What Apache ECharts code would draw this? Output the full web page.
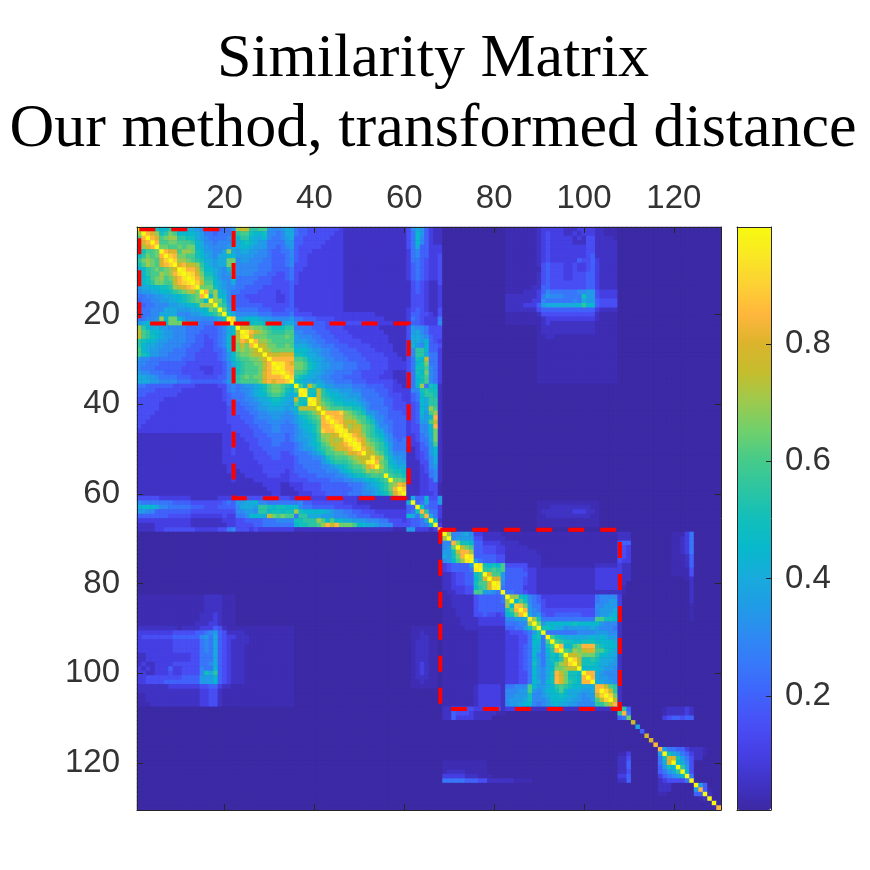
<!DOCTYPE html>
<html>
<head>
<meta charset="utf-8">
<title>Similarity Matrix</title>
<script src="https://cdn.jsdelivr.net/npm/echarts@6/dist/echarts.min.js"></script>
<style>
html, body { margin: 0; padding: 0; background: #fff; }
#main { width: 870px; height: 870px; }
</style>
</head>
<body>
<div id="main"></div>
<script type="text/javascript">
var size = 130;
var tickStep = 20;
var colorTicks = [0.2, 0.4, 0.6, 0.8];
var colorMin = 0.006;
var colorMax = 0.999;
var boxes = [[1, 22], [22, 61], [68, 108]];

// one char per cell: '.' is background, then steps of 0.05
var levelChars = '.0123456789abcdefghijk';
var levelValues = [0.006, 0.025, 0.05, 0.1, 0.15, 0.2, 0.25, 0.3, 0.35, 0.4, 0.45, 0.5, 0.55, 0.6, 0.65, 0.7, 0.75, 0.8, 0.85, 0.9, 0.95, 1];

var colormap = ['#3c29a4', '#4034c8', '#4640e6', '#4850f6', '#3f64fb', '#3778fa', '#2e8af2', '#209ce6', '#18abdc', '#08b9cc', '#12bfba',
	'#2cc5a2', '#46cb8a', '#6fd06c', '#9cca4e', '#c4bd2e', '#dcb42c', '#ffb63c', '#fdd034', '#f9e724', '#f8fa10'];

// the matrix is symmetric, only the lower triangle is stored
// rows 1..68, from column 1
var rowsTop = [
'k',
'ek',
'chk',
'cghk',
'aeghk',
'9accdk',
'9bdcdhk',
'bdedcgik',
'acedcghik',
'89bcdcdegk',
'89bccedehjk',
'89acdecdfhjk',
'89abddccfhijk',
'78899aabefghik',
'6778899abcdefdk',
'5566778899abcdhk',
'4556677889abcdc9k',
'4455666778899aeeek',
'45566688877788 99dck',
'55566888866677 89abdk',
'5566 7e9dd9 7666666 78a k',
'78998 89ddd ca86 5555 68ik',
'eb98877666 6555544456 89 k',
'fcb9987766 6555444456 89 fk',
'fcba987766 6554434456 99 fjk',
'ba99877666 6554433456 99 ehgk',
'b988776666 5544433456 9a dfdhk',
'c987766655 5444333445 8a dedefk',
'ca97766555 5443333345 79 cddeffk',
'7665555555 4443333345 79 bccddegk',
'6655544444 4333333334 68 abccddfhk',
'6555444444 3333222334 67 abcccdfhjk',
'7665554444 3333322334 67 abcccdghjjk',
'8877655554 4433333344 68 bcdcddghhhik',
'8887766665 5544444445 78 bccccdghghhik',
'5544444433 3332222233 56 5677 89acddcbak',
'4444333333 2222222223 56 56678 9acddca9ck',
'4433333332 2222222223 45 5567899bccb989jk',
'3333332222 2222222223 45 55667889aa988faak',
'3333322222 2222222222 44 4556678899887ca9jk',
'3333322222 2222222222 34 44556778888789ffffk',
'3333222222 2222222222 34 44455667777678bbcdfk',
'3332222222 2222222222 33 3444566677666 79abcdhk',
'3322222222 2222222222 33 3344555666656 789abchik',
'3222222222 2222222222 23 3334455566555 689 9achhik',
'2222222222 2222222222 23 3333445566555 6789acihhjk',
'1111111111 1111111112 23 2333444555545 6788 9beefgjk',
'1111111111 1111111112 23 2233344455545 67789bdefefjk',
'1111111111 1111111112 23 2223344455444 5 6789acdffghjk',
'1111111111 1111111112 23 2223334444444 5 677 8abcdfgghjk',
'1111111111 1111111112 23 2222333444334 5 5 5678accddeggh k',
'1111111111 1111111112 22 2222333344333 4 5 55667abcccdefffk',
'1111111111 1111111112 22 2222233333333 4 5 5 5 5578abbbcdefjk',
'1111111111 1111111111 22 2222223333333 4 4 5 5 5566 789abccdghk',
'1111111111 1111111111 22 1222223333323 4 4 4 5 55566 689abbcededk',
'1111111111 1111111111 12 1122222333223 3 4 4 4 4555 5667 89aabcc ck',
'1111111111 1111111111 12 1111222222223 3 3 3 4 444 4555 6677899abck',
'1111111111 1111111111 11 1111112222112 2 2 3 3 3344 444 4555678 9abdek',
'1111111111 1111111111 11 1111111222111 2 2 3 3 3344 4444 455677 8abdhk',
'1111111111 1111111111 11 1111111122111 1 2 2 2 3334444 4555667 89acgik',
'3333322222 2211111122 22 3333333333 3322222222 2222222111 1111111111 e',
'6555555544 4433333334 5477889665 5555556443 3333332221 1111111111 8k',
'8999866555 5544433344 4468887bba 9aa9996554 4444333322 2211111111 44k',
'7766444444 4433333333 3366776bb9 aa9aaea999 9987665544 3332222222 45ah',
'4444444333 3322222223 2255699 98f dcdcc5bb88 8777666554 4433322222 985bh',
'2222222222 2211111112 2233444455 5666 6aabbb ec9c998877 7666553332 3 4 4 5 8 k',
'1111222222 2211111111 2233334455 555559aabb cehfhdddc9 9887666333 3 4 4 5 5 9 k',
'1111223333 3332222233 5633323222 2222211111 1111111111 1111111000 7 7 2 2 2 1 2 h'
];

// rows 69..130, from column 69
var rowsMid = [
'k',
'ek',
'66h',
'67dk',
'77afh',
'87adhk',
'679cejk',
'2344447k',
'2344445jk',
'1123344abk',
'1123344 9bgk',
'1123344 accgk',
'1122233 9bcgjk',
'0112233 cc7765k',
'0011111 3444445 k',
'0011111 3444445 ek',
'0011111 3444444 e9i',
'0001111 3444444 achk',
'0001111 3343323 9adhk',
'0000111 1222222 66778j',
'0000111 1222222 55566ek',
'0000011 1111111 44557adk',
'0000000 0111111 2333457ak',
'0000000 0111111 22233 59a5k',
'0000000 0111111 22233 599 5ck',
'0000000 0111111 22234 598 5ack',
'0000000 0111111 22234 598 59bhk',
'0000000 0111111 22234 59658 a9ck',
'0000000 0111111 22234 59758 a9bfk',
'0000000 0111111 22234 5a758 9cefik',
'0000000 0111111 22234 59768 9ddeffk',
'0000000 0111111 22233 59768 a hfdaa9 k',
'0000000 0111111 22233 59768 a hgdaa9 hk',
'0000000 0111111 22233 59869 a hgdba9 hhk',
'0000000 1222221 55666 c9778 9 bcba99 888h',
'0000000 1222221 66677 c7679 9 ac9888 778hk',
'0000000 1222221 66777 a6678 9 9a9887 677fik',
'0000000 1222221 67778 a6667 9 998877 667cfik',
'0000000 1222221 67789 96567 8 988776 666bbdfh',
'1133333 2222231 22221 11111 1 111111 111 1111 1g',
'1143332111 1100...... .......... .........b h',
'1142222111 1......... .......... .........4 5d',
'.......... .......... .......... .......... ..f',
'.......... .......... .......... .......... ...8',
'.......... .......... .......... .......... ....4',
'.......... .......... .......... .......... .....g',
'.......... .......... .......... .......... ......g',
'.......... .......... .......... .......... .......h',
'.......... .......... .......... .......... ........h',
'.......... .......... .......... .........0 02......7k',
'.......... .......... .......... .........1 13......5a g',
'0000000000 .......... .......... .........1 14......58 gk',
'0000000000 .......... .......... .........1 14......47 a9k',
'0111100000 .......... .......... .........1 13......45 78bk',
'2222211100 0......... .......... .........2 24......24 5679k',
'5555544433 1111110000 .......... .........1 14......12 33335k',
'.......... .......... .......... .......... ........11 1.....k',
'.......... .......... .......... .......... ........11 1.....7h',
'.......... .......... .......... .......... ........00 ......44k',
'.......... .......... .......... .......... .......... .......01k',
'.......... .......... .......... .......... .......... .......... k',
'.......... .......... .......... .......... .......... .......... .h'
];

// rows 83..107, from column 1
var rowsFar = [
'0000000000 0000011110 00',
'0000000000 0000011110 00',
'0000000000 0000011110 00',
'0000000000 0000011110 00',
'0000000000 0000111210 00',
'0000000000 0000111210 00',
'0000000000 0001112210 00',
'1111111110 1111222431 00 0000000000000',
'2222222233 3334456743 11 1100000000000',
'2333333344 4444675843 22 1110000000000',
'2222222233 3333565843 21 1110000000000',
'2222222233 3333565843 21 1100000000000',
'2222222233 3333565843 21 1100000000000',
'1122222222 2233555843 21 1100000000000',
'1122222222 2233555843 21 1100000000000',
'1211222233 3333556843 21 1100000000000',
'2121222422 3333655943 21 1100000000000',
'2211222322 33336a8b43 21 1100000000000',
'2233333333 4444777943 21 1100000000000',
'2233334444 4444777943 21 1100000000000',
'1111111222 2222334421 10 0000000000000',
'1111111111 1111223310 00 0000000000000',
'0011111111 1111223310 00 0000000000000',
'0011111111 1111223310 00 0000000000000',
'0001111111 1111223310 00 0000000000000'
];

// rows 90..103, from column 62
var rowsStrip = [
'000000', '001000', '001100', '011100', '011100', '011100', '011100',
'011100', '012100', '012100', '012100', '011100', '001000', '000000'
];

var matrix = [];
for (var i = 0; i < size; i++) {
	matrix.push([]);
	for (var j = 0; j < size; j++) {
		matrix[i].push(levelValues[0]);
	}
}

function fillRows(rows, firstRow, firstCol) {
	for (var r = 0; r < rows.length; r++) {
		var text = rows[r].replace(/\s/g, '');
		for (var k = 0; k < text.length; k++) {
			var y = firstRow - 1 + r;
			var x = firstCol - 1 + k;
			var v = levelValues[levelChars.indexOf(text.charAt(k))];
			if (x < size && y < size) {
				matrix[y][x] = v;
				matrix[x][y] = v;
			}
		}
	}
}
fillRows(rowsTop, 1, 1);
fillRows(rowsMid, 69, 69);
fillRows(rowsFar, 83, 1);
fillRows(rowsStrip, 90, 62);

var labels = [];
var cells = [];
for (var a = 0; a < size; a++) {
	labels.push(String(a + 1));
	for (var b = 0; b < size; b++) {
		cells.push([b, a, matrix[a][b]]);
	}
}

var boxData = [];
for (var n = 0; n < boxes.length; n++) {
	boxData.push([boxes[n][0] - 1, boxes[n][1] - 1]);
}

var axisColor = '#262626';
var labelFont = { fontFamily: 'Liberation Sans', fontSize: 33, color: '#333333' };

function isTick(index) {
	return (index + 1) % tickStep === 0;
}

function matrixAxis(position, withLabels, inverse, margin) {
	return {
		type: 'category',
		gridIndex: 0,
		position: position,
		data: labels,
		inverse: inverse,
		boundaryGap: true,
		z: 6,
		axisLine: { show: true, onZero: false, lineStyle: { color: axisColor, width: 1 } },
		axisTick: { show: true, inside: true, length: 6, alignWithLabel: true, interval: isTick, lineStyle: { color: axisColor, width: 1 } },
		axisLabel: {
			show: withLabels, interval: isTick, margin: margin, hideOverlap: false,
			fontFamily: labelFont.fontFamily, fontSize: labelFont.fontSize, color: labelFont.color
		},
		splitLine: { show: false }
	};
}

function barEdge(position) {
	return {
		type: 'value',
		gridIndex: 1,
		position: position,
		min: 0,
		max: 1,
		z: 6,
		axisLine: { show: true, onZero: false, lineStyle: { color: axisColor, width: 1 } },
		axisTick: { show: false },
		axisLabel: { show: false },
		splitLine: { show: false }
	};
}

var colorAxis = {
	type: 'value',
	gridIndex: 1,
	position: 'right',
	min: colorMin,
	max: colorMax,
	z: 6,
	axisLine: { show: true, onZero: false, lineStyle: { color: axisColor, width: 1 } },
	axisTick: { show: true, inside: true, length: 5, customValues: colorTicks, lineStyle: { color: axisColor, width: 1 } },
	axisLabel: {
		show: true, margin: 14, customValues: colorTicks,
		formatter: function (v) { return v.toFixed(1); },
		fontFamily: labelFont.fontFamily, fontSize: labelFont.fontSize, color: labelFont.color
	},
	splitLine: { show: false }
};

var option = {
	animation: false,
	backgroundColor: '#ffffff',
	title: {
		text: 'Similarity Matrix\nOur method, transformed distance',
		left: 428,
		top: 20,
		textAlign: 'center',
		textStyle: { fontFamily: 'Liberation Serif', fontWeight: 'normal', fontSize: 62, lineHeight: 70, color: '#000000' }
	},
	grid: [
		{ left: 137, top: 227, width: 584, height: 583, show: true, backgroundColor: colormap[0], borderWidth: 0 },
		{ left: 737, top: 227, width: 34, height: 583 }
	],
	xAxis: [matrixAxis('top', true, false, 12), matrixAxis('bottom', false, false, 12), barEdge('top'), barEdge('bottom')],
	yAxis: [matrixAxis('left', true, true, 17), matrixAxis('right', false, true, 17), colorAxis, barEdge('left')],
	visualMap: {
		type: 'continuous',
		seriesIndex: 0,
		dimension: 2,
		min: colorMin,
		max: colorMax,
		calculable: false,
		left: 737,
		top: 227,
		padding: 0,
		itemWidth: 34,
		itemHeight: 583,
		text: null,
		inRange: { color: colormap }
	},
	series: [
		{
			type: 'heatmap',
			xAxisIndex: 0,
			yAxisIndex: 0,
			data: cells,
			progressive: 0,
			itemStyle: { borderWidth: 0 },
			emphasis: { disabled: true }
		},
		{
			type: 'custom',
			xAxisIndex: 0,
			yAxisIndex: 0,
			clip: false,
			z: 4,
			data: boxData,
			renderItem: function (params, api) {
				var p0 = api.coord([api.value(0), api.value(0)]);
				var p1 = api.coord([api.value(1), api.value(1)]);
				return {
					type: 'polyline',
					shape: { points: [[p0[0], p0[1]], [p1[0], p0[1]], [p1[0], p1[1]], [p0[0], p1[1]], [p0[0], p0[1]]] },
					style: { fill: null, stroke: '#ff0000', lineWidth: 4, lineDash: [16, 16] }
				};
			}
		}
	]
};

var myChart = echarts.init(document.getElementById('main'));
myChart.setOption(option);
</script>
</body>
</html>
